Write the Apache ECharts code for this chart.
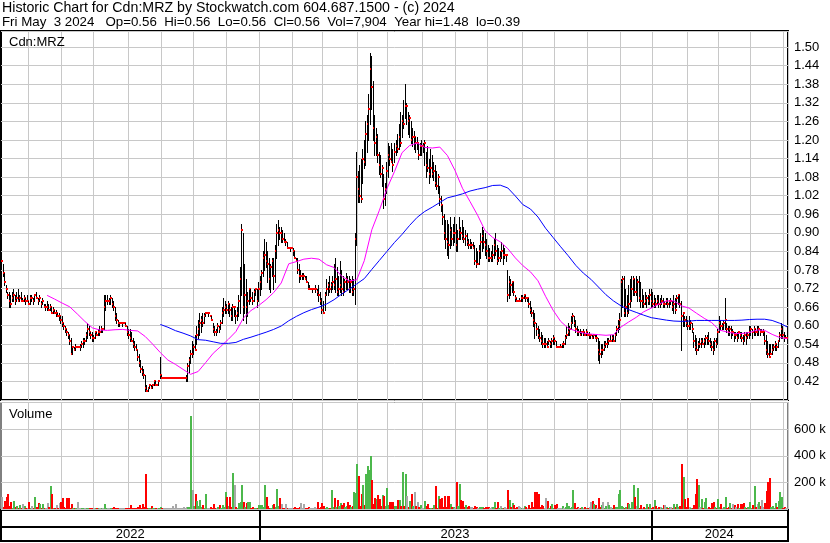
<!DOCTYPE html>
<html>
<head>
<meta charset="utf-8">
<script src="https://cdn.jsdelivr.net/npm/echarts@6/dist/echarts.min.js"></script>
<style>
html, body { margin: 0; padding: 0; background: #fff; }
#chart { width: 830px; height: 543px; }
</style>
</head>
<body>
<div id="chart"></div>
<script>
// daily bars, one per weekday starting 2022-05-06, prices in cents
const highs = [
  82,80,77,73,71,71,70,71,72,70, 71,72,70,71,69,70,69,70,68,70, 70,69,70,71,69,70,68,69,67,67,
  68,67,67,66,66,65,65,64,64,63, 63,61,60,59,58,57,56,53,53,54, 53,53,54,55,56,56,58,61,60,58,
  58,57,58,58,59,60,60,59,70,70, 70,69,70,69,68,66,64,62,61,61, 61,61,61,60,59,59,58,56,55,54,
  52,51,49,47,46,44,41,40,41,41, 41,42,42,41,42,50,44,43,43,43, 43,43,43,43,43,43,43,43,43,43,
  43,43,44,48,50,52,55,54,57,60, 62,64,63,64,64,64,64,64,63,63, 61,60,59,61,60,62,66,69,68,67,
  68,67,66,67,66,65,66,70,79,93, 90,80,75,71,72,72,71,72,72,72, 74,76,78,84,88,87,84,82,80,82,
  82,86,93,94,92,92,91,90,88,87, 85,85,85,85,84,82,82,80,78,77, 77,76,76,74,73,72,72,72,73,72,
  73,71,69,68,71,75,74,76,74,76, 80,82,79,76,81,78,76,75,77,76, 76,75,76,75,90,116,110,112,114,117,
  120,126,128,135,148,147,139,128,124,122, 116,115,112,109,106,113,119,118,119,117, 119,120,122,125,129,128,133,138,132,129,
  128,126,124,123,121,121,119,119,120,119, 120,116,118,114,117,115,113,112,110,109, 105,102,99,96,94,94,93,95,92,93,
  95,93,91,95,92,94,92,91,90,88, 88,87,87,86,85,84,86,90,92,91, 90,88,86,85,84,86,88,90,86,85,
  84,87,86,85,83,78,76,75,74,74, 70,69,68,69,70,70,70,70,69,69, 68,66,65,64,61,60,59,58,57,56,
  56,55,56,55,56,57,56,55,53,53, 54,54,55,57,60,61,60,63,64,63, 62,60,59,59,58,59,58,59,58,58,
  57,57,57,57,57,56,55,54,54,55, 55,56,56,57,57,57,58,60,62,64, 75,76,76,72,70,73,75,76,76,75,
  76,75,76,74,72,70,71,70,70,72, 72,71,70,69,70,70,69,70,69,68, 69,69,68,69,68,70,69,70,70,70,
  68,64,63,63,62,63,62,61,58,57, 56,55,56,56,56,56,57,57,58,56, 55,55,56,56,59,63,62,61,62,69,
  61,60,60,60,59,58,58,58,58,58, 58,57,58,58,58,60,60,59,60,59, 60,60,59,59,59,58,57,55,54,54,
  54,54,55,54,55,58,61,60,58,57, 56
];
const lows = [
  80,76,73,71,69,66,66,68,68,67, 68,68,68,68,68,68,67,68,67,67, 68,67,68,69,67,68,66,67,66,65,
  65,65,65,64,64,64,63,63,62,61, 60,59,58,57,56,54,51,51,52,52, 53,53,52,53,53,54,55,56,57,56,
  55,55,56,57,57,57,58,58,59,65, 67,67,67,66,65,62,61,60,60,61, 60,61,60,57,56,55,55,53,52,52,
  49,47,45,44,43,39,39,39,40,40, 40,41,41,41,41,43,43,43,43,43, 43,43,43,43,43,43,43,43,43,43,
  43,43,42,42,45,48,50,51,52,54, 56,57,58,60,61,63,64,63,63,62, 58,57,57,58,58,59,61,63,64,64,
  64,63,62,62,63,61,62,63,64,70, 62,64,61,63,67,68,67,68,70,66, 68,70,72,76,78,79,74,72,71,76,
  72,74,82,86,88,87,87,87,86,85, 85,84,85,83,82,81,77,74,75,75, 75,75,74,72,72,72,71,72,71,70,
  68,67,64,64,65,70,70,71,71,72, 72,71,70,70,71,70,70,71,72,72, 71,71,70,70,67,86,100,100,100,106,
  111,112,116,120,125,130,120,115,115,113, 109,108,105,98,99,103,108,112,113,110, 113,115,116,117,118,121,124,127,125,122,
  121,119,118,117,116,117,114,115,115,116, 112,108,110,106,108,108,107,105,104,103, 99,97,93,88,85,83,82,85,86,86,
  87,84,84,88,88,88,87,86,86,85, 85,85,85,80,79,80,80,82,84,85, 83,82,81,81,81,81,82,83,80,81,
  81,82,80,82,81,68,69,70,71,70, 68,68,68,68,68,68,69,68,68,66, 64,63,60,56,57,56,55,54,53,53,
  53,53,54,53,53,54,54,53,53,53, 53,53,53,54,56,57,57,59,61,60, 58,57,57,57,57,57,57,57,57,56,
  56,56,56,56,55,49,48,50,51,52, 53,53,54,55,55,55,55,57,58,59, 63,66,63,63,63,64,66,68,70,70,
  70,68,68,66,66,66,67,66,67,67, 66,66,66,66,67,66,66,67,66,66, 67,66,66,67,65,64,64,66,67,66,
  52,60,60,60,59,59,59,58,53,52, 51,52,53,53,54,53,54,54,54,53, 52,51,52,53,54,58,59,59,59,59,
  58,57,57,56,57,55,56,55,56,56, 55,54,55,54,56,56,57,56,57,57, 57,57,57,58,57,54,51,50,50,51,
  51,52,52,52,53,55,56,56,55,56, 56
];
const closes = [
  81,77,74,72,70,68,67,69,70,68, 69,68,69,68,68,69,68,68,67,69, 69,68,70,69,68,69,67,68,66,66,
  66,65,66,64,65,64,64,63,63,62, 61,60,59,58,57,55,51,53,52,53, 53,53,53,54,55,55,57,59,58,57,
  56,56,58,57,58,58,59,59,66,68, 68,68,69,67,66,63,62,61,61,61, 61,61,60,58,57,56,55,54,53,52,
  50,48,46,45,44,40,39,40,41,40, 41,42,41,41,42,44,43,43,43,43, 43,43,43,43,43,43,43,43,43,43,
  43,43,43,47,49,51,51,53,52,57, 59,61,62,61,63,64,64,64,63,62, 59,58,58,60,59,61,64,65,66,65,
  67,65,63,66,66,63,64,68,75,91, 66,70,66,68,72,69,68,71,72,68, 72,74,77,82,83,81,80,75,79,81,
  76,84,90,91,90,90,88,87,87,85, 85,85,85,84,82,81,78,76,76,76, 76,75,74,72,72,72,72,72,72,71,
  70,68,65,64,70,72,73,72,73,74, 73,75,71,72,73,72,71,74,75,74, 72,74,71,72,88,108,104,102,101,114,
  113,122,125,130,143,137,124,119,121,115, 112,109,111,101,104,110,115,114,113,112, 116,118,117,121,119,126,125,131,131,126,
  127,120,121,121,119,119,115,118,118,118, 119,112,111,109,111,109,110,106,105,108, 101,99,95,90,88,87,86,91,88,90,
  90,86,88,91,90,89,88,89,87,86, 86,86,85,81,80,80,84,87,89,87, 86,84,82,82,82,83,86,84,81,82,
  82,84,83,83,83,70,74,73,74,71, 69,68,68,68,69,69,70,69,69,67, 65,64,62,61,59,57,56,55,54,54,
  54,53,55,54,55,56,55,53,53,53, 53,54,54,56,57,58,59,61,63,61, 59,58,58,57,58,58,57,58,57,57,
  57,56,57,56,56,52,51,52,52,53, 54,54,55,55,56,55,57,59,60,62, 74,75,64,66,64,67,68,72,75,71,
  71,74,69,68,68,67,68,69,68,70, 68,67,68,67,68,67,67,68,67,67, 68,67,68,68,66,67,65,69,70,67,
  63,64,62,61,60,60,61,59,55,53, 52,54,54,55,54,55,56,56,55,54, 53,52,55,54,58,61,60,60,61,62,
  59,58,59,58,58,57,57,56,58,57, 56,55,57,56,57,58,59,58,59,58, 58,59,58,58,58,55,52,51,50,51,
  52,53,54,53,55,57,59,57,56,56, 56
];
// daily volume, thousands of shares
const volumes = [
  90,15,60,90,110,20,50,10,60,15, 25,8,30,10,35,20,5,10,50,8, 20,10,90,12,45,40,8,40,10,5,
  45,12,170,110,10,8,30,10,45,55, 80,15,10,80,80,10,40,8,10,5, 55,5,10,3,5,3,2,3,5,3,
  5,3,8,3,5,3,5,3,40,10, 5,10,3,8,12,5,3,10,5,3, 5,8,3,10,5,30,5,10,3,8,
  12,30,10,40,15,260,10,5,8,20, 5,10,3,5,8,15,5,3,5,3, 2,3,5,20,3,35,3,2,5,3,
  12,10,12,12,15,700,145,20,110,60, 20,65,15,30,10,110,10,5,15,8, 35,10,5,15,30,10,30,15,130,90,
  20,90,15,270,180,15,10,45,55,180, 55,15,45,50,50,10,15,5,10,8, 30,30,30,15,180,90,20,10,10,30,
  40,15,150,20,80,40,10,5,40,8, 10,5,3,8,12,5,10,15,45,10, 40,8,5,12,10,5,10,15,5,55,
  10,15,45,20,10,15,8,10,140,15, 80,15,65,20,45,30,45,15,20,55, 30,15,20,130,120,340,250,20,110,180,
  30,260,320,290,400,220,40,80,75,105, 75,20,105,100,25,160,30,55,50,55, 20,25,70,70,20,280,25,260,95,15,
  60,110,20,130,20,55,15,30,10,10, 60,20,35,10,10,10,30,175,10,100, 75,80,15,100,15,100,100,40,15,15,
  10,205,20,190,70,60,15,30,15,25, 15,15,10,20,15,10,15,12,15,10, 15,12,15,10,12,15,50,10,50,10,
  20,10,8,15,10,140,65,15,45,30, 10,15,20,15,10,8,20,15,10,30, 10,55,15,130,125,110,15,30,20,10,
  80,60,10,25,40,10,30,35,10,8, 10,20,10,15,45,20,10,15,140,45, 10,15,5,10,12,8,15,10,8,12,
  50,60,35,30,10,80,15,30,50,10, 25,50,30,15,10,30,15,12,110,140, 20,15,10,15,45,35,10,55,180,90,
  20,155,10,30,10,15,10,35,15,35, 10,12,70,20,10,12,15,10,30,30, 15,10,12,15,10,35,12,40,15,20,
  335,240,75,15,80,15,10,10,30,115, 225,180,15,75,10,50,85,10,15,10, 45,50,15,10,75,15,40,10,15,90,
  10,15,45,10,35,30,15,35,10,35, 35,45,15,10,12,50,10,30,175,15, 35,50,20,65,15,45,135,200,235,15,
  20,10,45,15,60,130,90,10,15,8, 7.9
];
// moving averages every 5 trading days
const maStep = 5;
const maFastStart = 30;
const maFast = [
  0.698,0.686,0.673,0.661,0.638,0.614,0.593,0.586,0.585,0.587,
  0.588,0.585,0.583,0.565,0.540,0.513,0.489,0.475,0.459,0.443,
  0.452,0.481,0.511,0.533,0.556,0.581,0.625,0.649,0.665,0.684,
  0.707,0.738,0.800,0.807,0.815,0.818,0.815,0.797,0.788,0.760,
  0.745,0.748,0.810,0.910,0.973,1.043,1.098,1.159,1.182,1.190,
  1.176,1.174,1.177,1.150,1.102,1.044,1.001,0.957,0.907,0.885,
  0.871,0.849,0.819,0.794,0.774,0.745,0.695,0.650,0.614,0.592,
  0.583,0.576,0.573,0.571,0.569,0.571,0.596,0.612,0.627,0.645,
  0.657,0.670,0.680,0.680,0.664,0.657,0.640,0.624,0.610,0.586,
  0.580,0.575,0.575,0.578,0.586,0.585,0.572,0.562,0.558
];
const maSlowStart = 105;
const maSlow = [
  0.604,0.595,0.584,0.576,0.567,0.555,0.553,0.548,0.543,0.543,
  0.546,0.556,0.563,0.571,0.579,0.588,0.599,0.616,0.630,0.642,
  0.652,0.660,0.670,0.684,0.702,0.718,0.735,0.752,0.782,0.811,
  0.840,0.869,0.895,0.924,0.950,0.969,0.983,0.998,1.013,1.019,
  1.026,1.035,1.041,1.046,1.053,1.054,1.045,1.019,0.991,0.977,
  0.951,0.915,0.885,0.855,0.826,0.795,0.770,0.750,0.725,0.700,
  0.680,0.664,0.652,0.643,0.634,0.626,0.622,0.618,0.615,0.614,
  0.615,0.617,0.617,0.617,0.617,0.617,0.617,0.618,0.620,0.621,
  0.621,0.617,0.608,0.596
];

const FONT = '"Liberation Sans", Arial, sans-serif';
const GRID_LINE = '#c8c8c8';
const UP = '#4cb84c', DOWN = '#ff0000', FLAT = '#a8a8a8';

// trading days (weekdays) for the category axis
const days = [];
const d = new Date(Date.UTC(2022, 4, 6));
while (days.length < closes.length) {
    const wd = d.getUTCDay();
    if (wd > 0 && wd < 6) days.push(d.toISOString().slice(0, 10));
    d.setUTCDate(d.getUTCDate() + 1);
}
const monthStarts = new Set();
const yearStarts = new Set();
days.forEach((s, i) => {
    if (i === 0) return;
    if (s.slice(5, 7) !== days[i - 1].slice(5, 7)) monthStarts.add(i);
    if (s.slice(0, 4) !== days[i - 1].slice(0, 4)) yearStarts.add(i);
});
const yearMids = new Set();
let runStart = 0;
for (let i = 1; i <= days.length; i++) {
    if (i === days.length || yearStarts.has(i)) {
        yearMids.add(Math.floor((runStart + i - 1) / 2));
        runStart = i;
    }
}

const ohlcData = closes.map((c, i) => [i, highs[i] / 100, lows[i] / 100, c / 100]);
const volColors = closes.map((c, i) => {
    const diff = i === 0 ? 0 : c - closes[i - 1];
    return diff > 0 ? UP : diff < 0 ? DOWN : FLAT;
});
const volData = volumes.map((v, i) => [i, v * 1000]);

const renderOhlc = (params, api) => {
    const i = api.value(0);
    const top = api.coord([i, api.value(1)]);
    const bot = api.coord([i, api.value(2)]);
    const cls = api.coord([i, api.value(3)]);
    const x = Math.floor(top[0]);
    const y0 = Math.round(top[1]);
    const y1 = Math.round(bot[1]);
    const children = [];
    if (y1 > y0) {
        children.push({ type: 'rect', shape: { x: x, y: y0, width: 1, height: y1 - y0 + 1 }, style: { fill: '#000' } });
    }
    children.push({ type: 'rect', shape: { x: x, y: Math.round(cls[1]) - 1, width: 2, height: 2 }, style: { fill: '#ff0000' } });
    return { type: 'group', children: children };
};

const renderVolume = (params, api) => {
    const i = api.value(0);
    const base = api.coord([i, 0]);
    const top = api.coord([i, api.value(1)]);
    const h = Math.max(1, Math.round(base[1] - top[1]));
    return {
        type: 'rect',
        shape: { x: Math.floor(base[0]), y: Math.round(base[1]) - h, width: 2, height: h },
        style: { fill: volColors[params.dataIndex] }
    };
};

const textStyle = { fontFamily: FONT, fontSize: 13, fontWeight: 'normal', color: '#000' };

const baseGrid = { left: 1, right: 42, show: true, borderColor: '#000', outerBoundsMode: 'none', containLabel: false };

const monthAxis = (gridIndex) => ({
    type: 'category',
    gridIndex,
    data: days,
    boundaryGap: true,
    axisLine: { show: false },
    axisTick: { show: false },
    axisLabel: { show: false },
    splitLine: {
        show: true,
        interval: (idx) => monthStarts.has(idx),
        lineStyle: { color: GRID_LINE, width: 1 }
    }
});

const yearAxis = (gridIndex, withLabels) => ({
    type: 'category',
    gridIndex,
    data: days,
    boundaryGap: true,
    axisLine: { show: false },
    axisTick: { show: false },
    axisLabel: {
        show: withLabels,
        inside: true,
        margin: 0,
        interval: (idx) => yearMids.has(idx),
        formatter: (v) => v.slice(0, 4),
        ...textStyle
    },
    splitLine: {
        show: true,
        interval: (idx) => yearStarts.has(idx),
        lineStyle: { color: '#000', width: 2 }
    }
});

const chart = echarts.init(document.getElementById('chart'));
chart.setOption({
    animation: false,
    backgroundColor: '#fff',
    textStyle: { fontFamily: FONT },
    title: [
        {
            text: 'Historic Chart for Cdn:MRZ by Stockwatch.com 604.687.1500 - (c) 2024',
            left: 2, top: 1, padding: 0,
            textStyle: { ...textStyle, fontSize: 14.2, lineHeight: 14 }
        },
        {
            text: 'Fri May  3 2024   Op=0.56  Hi=0.56  Lo=0.56  Cl=0.56  Vol=7,904  Year hi=1.48  lo=0.39',
            left: 2, top: 15, padding: 0,
            textStyle: { ...textStyle, fontSize: 13.3, lineHeight: 14 }
        },
        { text: 'Cdn:MRZ', left: 9, top: 35, padding: 0, textStyle: { ...textStyle, lineHeight: 14 } },
        { text: 'Volume', left: 9, top: 407, padding: 0, textStyle: { ...textStyle, lineHeight: 14 } }
    ],
    grid: [
        { ...baseGrid, top: 31, height: 369, borderWidth: 2 },
        { ...baseGrid, top: 402.5, height: 106.5, borderWidth: 1 },
        { ...baseGrid, top: 510, height: 17, borderWidth: 2 },
        { ...baseGrid, top: 527, height: 14, borderWidth: 2 }
    ],
    xAxis: [monthAxis(0), monthAxis(1), yearAxis(2, false), yearAxis(3, true)],
    yAxis: [
        {
            type: 'value', gridIndex: 0, position: 'right',
            min: 0.36, max: 1.552, interval: 0.06,
            axisLine: { show: false }, axisTick: { show: false },
            axisLabel: { ...textStyle, margin: 6, showMinLabel: false, showMaxLabel: false, formatter: (v) => v.toFixed(2) },
            splitLine: { lineStyle: { color: GRID_LINE, width: 1 } }
        },
        {
            type: 'value', gridIndex: 1, position: 'right',
            min: 0, max: 800000, interval: 200000,
            axisLine: { show: false }, axisTick: { show: false },
            axisLabel: { ...textStyle, margin: 6, showMinLabel: false, showMaxLabel: false, formatter: (v) => (v / 1000) + ' k' },
            splitLine: { lineStyle: { color: GRID_LINE, width: 1 } }
        },
        { type: 'value', gridIndex: 2, show: false, splitLine: { show: false } },
        { type: 'value', gridIndex: 3, show: false, splitLine: { show: false } }
    ],
    series: [
        {
            type: 'custom', name: 'price', xAxisIndex: 0, yAxisIndex: 0,
            renderItem: renderOhlc, data: ohlcData, clip: true,
            encode: { x: 0, y: [1, 2, 3] }, silent: true
        },
        {
            type: 'line', name: 'ma fast', xAxisIndex: 0, yAxisIndex: 0,
            data: maFast.map((v, k) => [maFastStart + k * maStep, v]),
            symbol: 'none', lineStyle: { color: '#ff00ff', width: 1 }, silent: true
        },
        {
            type: 'line', name: 'ma slow', xAxisIndex: 0, yAxisIndex: 0,
            data: maSlow.map((v, k) => [maSlowStart + k * maStep, v]),
            symbol: 'none', lineStyle: { color: '#0000ff', width: 1 }, silent: true
        },
        {
            type: 'custom', name: 'volume', xAxisIndex: 1, yAxisIndex: 1,
            renderItem: renderVolume, data: volData, clip: true,
            encode: { x: 0, y: 1 }, silent: true
        }
    ]
});
</script>
</body>
</html>
